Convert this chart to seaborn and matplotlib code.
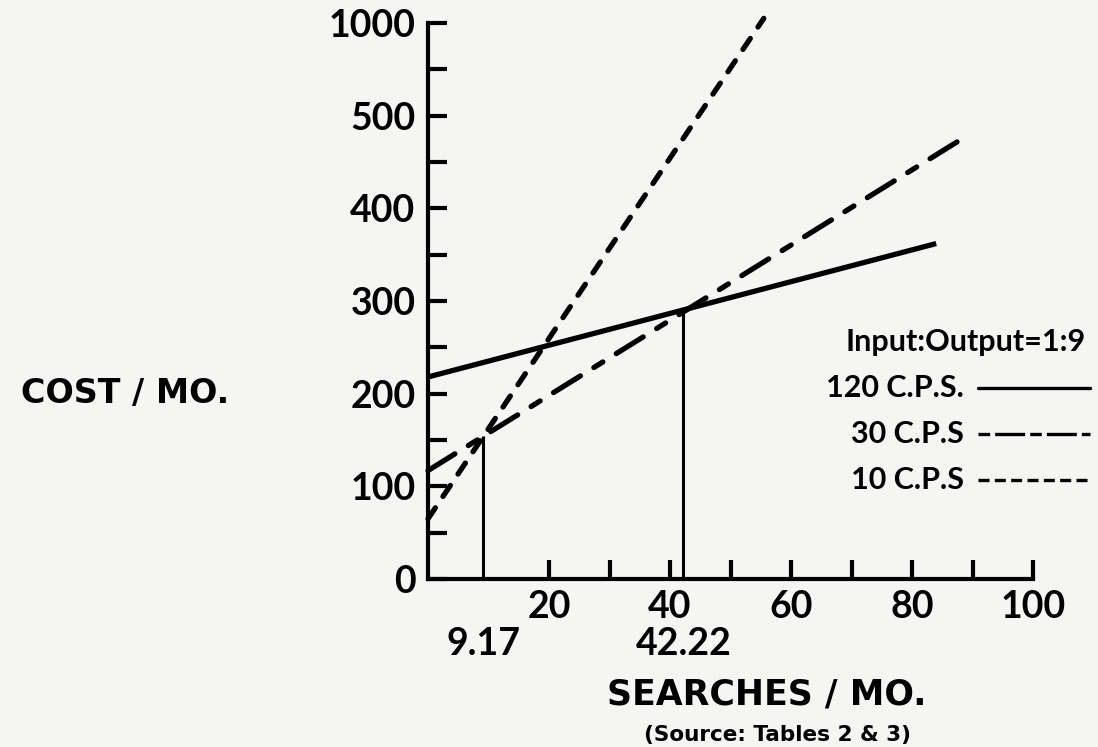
import pandas as pd
import matplotlib.pyplot as plt
import seaborn as sns
from matplotlib.lines import Line2D

# values (y is in plotted scale: the "1000" tick sits at 600)
searches_120 = [0, 84]
cost_120 = [218, 362]
searches_30 = [0, 89]
cost_30 = [117, 478]
searches_10 = [0, 55.5]
cost_10 = [65, 605]
cross_x = [9.17, 42.22]
cross_y = [154, 291]
ytick_pos = [0, 100, 200, 300, 400, 500, 600]
ytick_lab = ["0", "100", "200", "300", "400", "500", "1000"]
xtick_pos = [20, 40, 60, 80, 100]
legend_labels = ["120 C.P.S.", "30 C.P.S", "10 C.P.S"]

sns.set_theme(style="white")
plt.rcParams['font.family'] = ['Lato', 'DejaVu Sans']
plt.rcParams['text.color'] = 'black'
plt.rcParams['xtick.color'] = 'black'
plt.rcParams['ytick.color'] = 'black'
bg = "#f5f5f3"

W, H = 1098, 747
fig = plt.figure(figsize=(W / 100, H / 100), dpi=100, facecolor=bg)
ax = fig.add_axes([428 / W, 1 - 579 / H, (1033 - 428) / W, (579 - 23) / H])
ax.set_facecolor(bg)

lw = 3.8
sns.lineplot(x=searches_120, y=cost_120, ax=ax, color="black", lw=lw,
             solid_capstyle="butt", clip_on=False)
sns.lineplot(x=searches_30, y=cost_30, ax=ax, color="black", lw=lw,
             linestyle=(0, (6.0, 3.0, 2.0, 3.0)), dash_capstyle="round", clip_on=False)
sns.lineplot(x=searches_10, y=cost_10, ax=ax, color="black", lw=lw,
             linestyle=(0, (2.5, 2.6)), dash_capstyle="round", clip_on=False)
ax.vlines(cross_x, 0, cross_y, color="black", lw=2.2)

ax.set_xlim(0, 100)
ax.set_ylim(0, 600)
sns.despine(ax=ax)
for s in ["left", "bottom"]:
    ax.spines[s].set_linewidth(3)
    ax.spines[s].set_color("black")

ax.set_yticks(ytick_pos)
ax.set_yticklabels(ytick_lab)
ax.set_yticks([50, 150, 250, 350, 450, 550], minor=True)
ax.set_xticks(xtick_pos)
ax.set_xticklabels([str(v) for v in xtick_pos])
ax.set_xticks([30, 50, 70, 90], minor=True)
ax.tick_params(which="both", direction="in", length=14, width=3, color="black",
               left=True, bottom=True)
ax.tick_params(axis="y", which="major", labelsize=27, pad=9)
ax.tick_params(axis="x", which="major", labelsize=27, pad=8)
for lab in ax.get_xticklabels() + ax.get_yticklabels():
    lab.set_fontweight("bold")

for xv in cross_x:
    ax.annotate(f"{xv:.2f}", xy=(xv, 0), xytext=(0, -47), textcoords="offset points",
                ha="center", va="center", fontsize=27, fontweight="bold")

def ft(x, y, s, **kw):
    fig.text(x / W, 1 - y / H, s, **kw)

ft(125, 394, "COST / MO.", ha="center", va="center", fontsize=24, fontweight="bold",
   family="DejaVu Sans")
ft(767, 695, "SEARCHES / MO.", ha="center", va="center", fontsize=25, fontweight="bold",
   family="DejaVu Sans")
ft(778, 735, "(Source: Tables 2 & 3)", ha="center", va="center", fontsize=15.5,
   fontweight="bold", family="DejaVu Sans")

# hand-drawn key
ft(966, 342, "Input:Output=1:9", ha="center", va="center", fontsize=22, fontweight="bold")
key_y = [388, 434, 480]
key_styles = ["-", (0, (3.5, 1.5, 9.0, 1.5)), (0, (3.3, 1.6))]
for lab, yy, st in zip(legend_labels, key_y, key_styles):
    ft(964, yy, lab, ha="right", va="center", fontsize=22, fontweight="bold")
    fig.add_artist(Line2D([978 / W, 1090 / W], [1 - yy / H, 1 - yy / H],
                          color="black", lw=2.4, linestyle=st))

fig.savefig("out.png", dpi=100, facecolor=bg)
